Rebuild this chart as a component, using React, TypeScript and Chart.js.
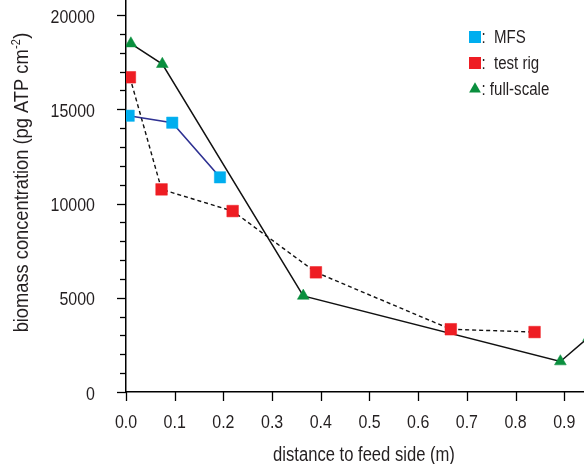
import React, { useEffect, useRef } from 'react';
import { Chart, registerables } from 'chart.js';

Chart.register(...registerables);

// ---- data ----
const mfsX = [0.0055, 0.095, 0.193];
const mfsY = [14660, 14290, 11390];
const rigX = [0.008, 0.073, 0.219, 0.39, 0.667, 0.839];
const rigY = [16700, 10750, 9600, 6350, 3330, 3180];
const fullX = [0.01, 0.0746, 0.364, 0.892, 0.95];
const fullY = [18490, 17400, 5100, 1620, 2900];
const seriesNames = ['MFS', 'test rig', 'full-scale'];
const legendPrefix = [':  ', ':  ', ': '];
const xTickValues = [0, 0.1, 0.2, 0.3, 0.4, 0.5, 0.6, 0.7, 0.8, 0.9];
const xTickLabels = ['0.0', '0.1', '0.2', '0.3', '0.4', '0.5', '0.6', '0.7', '0.8', '0.9'];
const yTickValues = Array.from({ length: 21 }, (_, i) => i * 1000);
const yLabelValues = [0, 5000, 10000, 15000, 20000];
const yLabelStep = 5000;
const xTitle = 'distance to feed side (m)';
const yTitleMain = 'biomass concentration (pg ATP cm';
const yTitleSup = '-2';
const yTitleEnd = ')';

const FONT = '"Liberation Sans", Arial, sans-serif';
const NARROW = 0.84; // horizontal condensing of the sans font
const TEXT = '#231f20';
const BLUE = '#00aeef';
const RED = '#ee1d23';
const GREEN = '#0a8f3e';
const NAVY = '#2e3192';

const toPts = (xs: number[], ys: number[]) => xs.map((x, i) => ({ x, y: ys[i] }));

function narrowText(
  ctx: CanvasRenderingContext2D,
  text: string,
  x: number,
  y: number,
  size: number,
  align: CanvasTextAlign,
  sx: number = NARROW
) {
  ctx.save();
  ctx.translate(x, y);
  ctx.scale(sx, 1);
  ctx.font = `${size}px ${FONT}`;
  ctx.textAlign = align;
  ctx.textBaseline = 'alphabetic';
  ctx.fillText(text, 0, 0);
  ctx.restore();
}

const decorPlugin = {
  id: 'decor',
  afterDraw(chart: any) {
    const ctx = chart.ctx as CanvasRenderingContext2D;
    const { left, bottom } = chart.chartArea;
    const xs = chart.scales.x;
    const ys = chart.scales.y;
    ctx.save();
    ctx.strokeStyle = '#000';
    ctx.lineWidth = 1.3;
    // y ticks (outward, left)
    yTickValues.forEach((v) => {
      const py = Math.round(ys.getPixelForValue(v)) + 0.5;
      const len = v % yLabelStep === 0 ? 9 : 6;
      ctx.beginPath();
      ctx.moveTo(left - len, py);
      ctx.lineTo(left, py);
      ctx.stroke();
    });
    // x ticks (outward, down)
    xTickValues.forEach((v) => {
      const px = Math.round(xs.getPixelForValue(v)) + 0.5;
      ctx.beginPath();
      ctx.moveTo(px, bottom);
      ctx.lineTo(px, bottom + 9);
      ctx.stroke();
    });

    ctx.fillStyle = TEXT;
    // tick labels
    yLabelValues.forEach((v) => {
      narrowText(ctx, String(v), left - 31, ys.getPixelForValue(v) + 7.5, 19, 'right');
    });
    xTickValues.forEach((v, i) => {
      narrowText(ctx, xTickLabels[i], xs.getPixelForValue(v), bottom + 36, 19, 'center');
    });

    // x title
    narrowText(ctx, xTitle, 364, 460.5, 20, 'center', 0.83);

    // y title (rotated, with superscript)
    ctx.save();
    ctx.translate(28, 183);
    ctx.rotate(-Math.PI / 2);
    ctx.scale(0.87, 1);
    ctx.textAlign = 'left';
    ctx.textBaseline = 'alphabetic';
    ctx.font = `21px ${FONT}`;
    const w1 = ctx.measureText(yTitleMain).width;
    const w3 = ctx.measureText(yTitleEnd).width;
    ctx.font = `12.5px ${FONT}`;
    const w2 = ctx.measureText(yTitleSup).width;
    let cx = -(w1 + w2 + w3) / 2;
    ctx.font = `21px ${FONT}`;
    ctx.fillText(yTitleMain, cx, 0);
    cx += w1 + 0.5;
    ctx.font = `12.5px ${FONT}`;
    ctx.fillText(yTitleSup, cx, -8.5);
    cx += w2 + 0.5;
    ctx.font = `21px ${FONT}`;
    ctx.fillText(yTitleEnd, cx, 0);
    ctx.restore();

    // legend
    const rows = [37, 63, 89];
    const mx = 475;
    rows.forEach((ry, i) => {
      if (i < 2) {
        ctx.fillStyle = i === 0 ? BLUE : RED;
        ctx.fillRect(mx - 6, ry - 6, 12, 12);
      } else {
        const r = 6.8;
        ctx.fillStyle = GREEN;
        ctx.beginPath();
        ctx.moveTo(mx, ry - r);
        ctx.lineTo(mx + r * 0.866, ry + r / 2);
        ctx.lineTo(mx - r * 0.866, ry + r / 2);
        ctx.closePath();
        ctx.fill();
      }
      ctx.fillStyle = TEXT;
      narrowText(ctx, legendPrefix[i] + seriesNames[i], 481.5, ry + 6.2, 17.5, 'left', 0.86);
    });
    ctx.restore();
  },
};

export default function App() {
  const ref = useRef<HTMLCanvasElement | null>(null);
  useEffect(() => {
    if (!ref.current) return;
    const chart = new Chart(ref.current, {
      type: 'line',
      data: {
        datasets: [
          {
            label: seriesNames[0],
            data: toPts(mfsX, mfsY),
            borderColor: NAVY,
            borderWidth: 1.6,
            pointStyle: 'rect',
            pointRadius: 8,
            pointBackgroundColor: BLUE,
            pointBorderColor: BLUE,
            pointBorderWidth: 0.5,
            tension: 0,
          },
          {
            label: seriesNames[1],
            data: toPts(rigX, rigY),
            borderColor: '#111',
            borderWidth: 1.4,
            borderDash: [4, 3],
            pointStyle: 'rect',
            pointRadius: 8.2,
            pointBackgroundColor: RED,
            pointBorderColor: RED,
            pointBorderWidth: 0.5,
            tension: 0,
          },
          {
            label: seriesNames[2],
            data: toPts(fullX, fullY),
            borderColor: '#111',
            borderWidth: 1.5,
            pointStyle: 'triangle',
            pointRadius: 6.8,
            pointBackgroundColor: GREEN,
            pointBorderColor: GREEN,
            pointBorderWidth: 0.5,
            tension: 0,
          },
        ],
      },
      options: {
        animation: false,
        responsive: false,
        devicePixelRatio: 1,
        layout: { padding: 0, autoPadding: false },
        plugins: { legend: { display: false }, tooltip: { enabled: false } },
        scales: {
          x: {
            type: 'linear',
            min: 0,
            max: 0.9405,
            afterBuildTicks: (s: any) => {
              s.ticks = xTickValues.map((v) => ({ value: v }));
            },
            afterFit: (s: any) => {
              s.height = 72;
            },
            ticks: { display: false },
            grid: { display: false },
            border: { display: true, color: '#000', width: 1.5 },
          },
          y: {
            type: 'linear',
            min: 0,
            max: 20800,
            afterBuildTicks: (s: any) => {
              s.ticks = yTickValues.map((v) => ({ value: v }));
            },
            afterFit: (s: any) => {
              s.width = 126;
            },
            ticks: { display: false },
            grid: { display: false },
            border: { display: true, color: '#000', width: 1.5 },
          },
        },
      },
      plugins: [decorPlugin],
    });
    return () => chart.destroy();
  }, []);
  return (
    <div style={{ position: 'fixed', left: 0, top: 0, width: 584, height: 464, background: '#fff' }}>
      <canvas ref={ref} width={584} height={464} />
    </div>
  );
}
